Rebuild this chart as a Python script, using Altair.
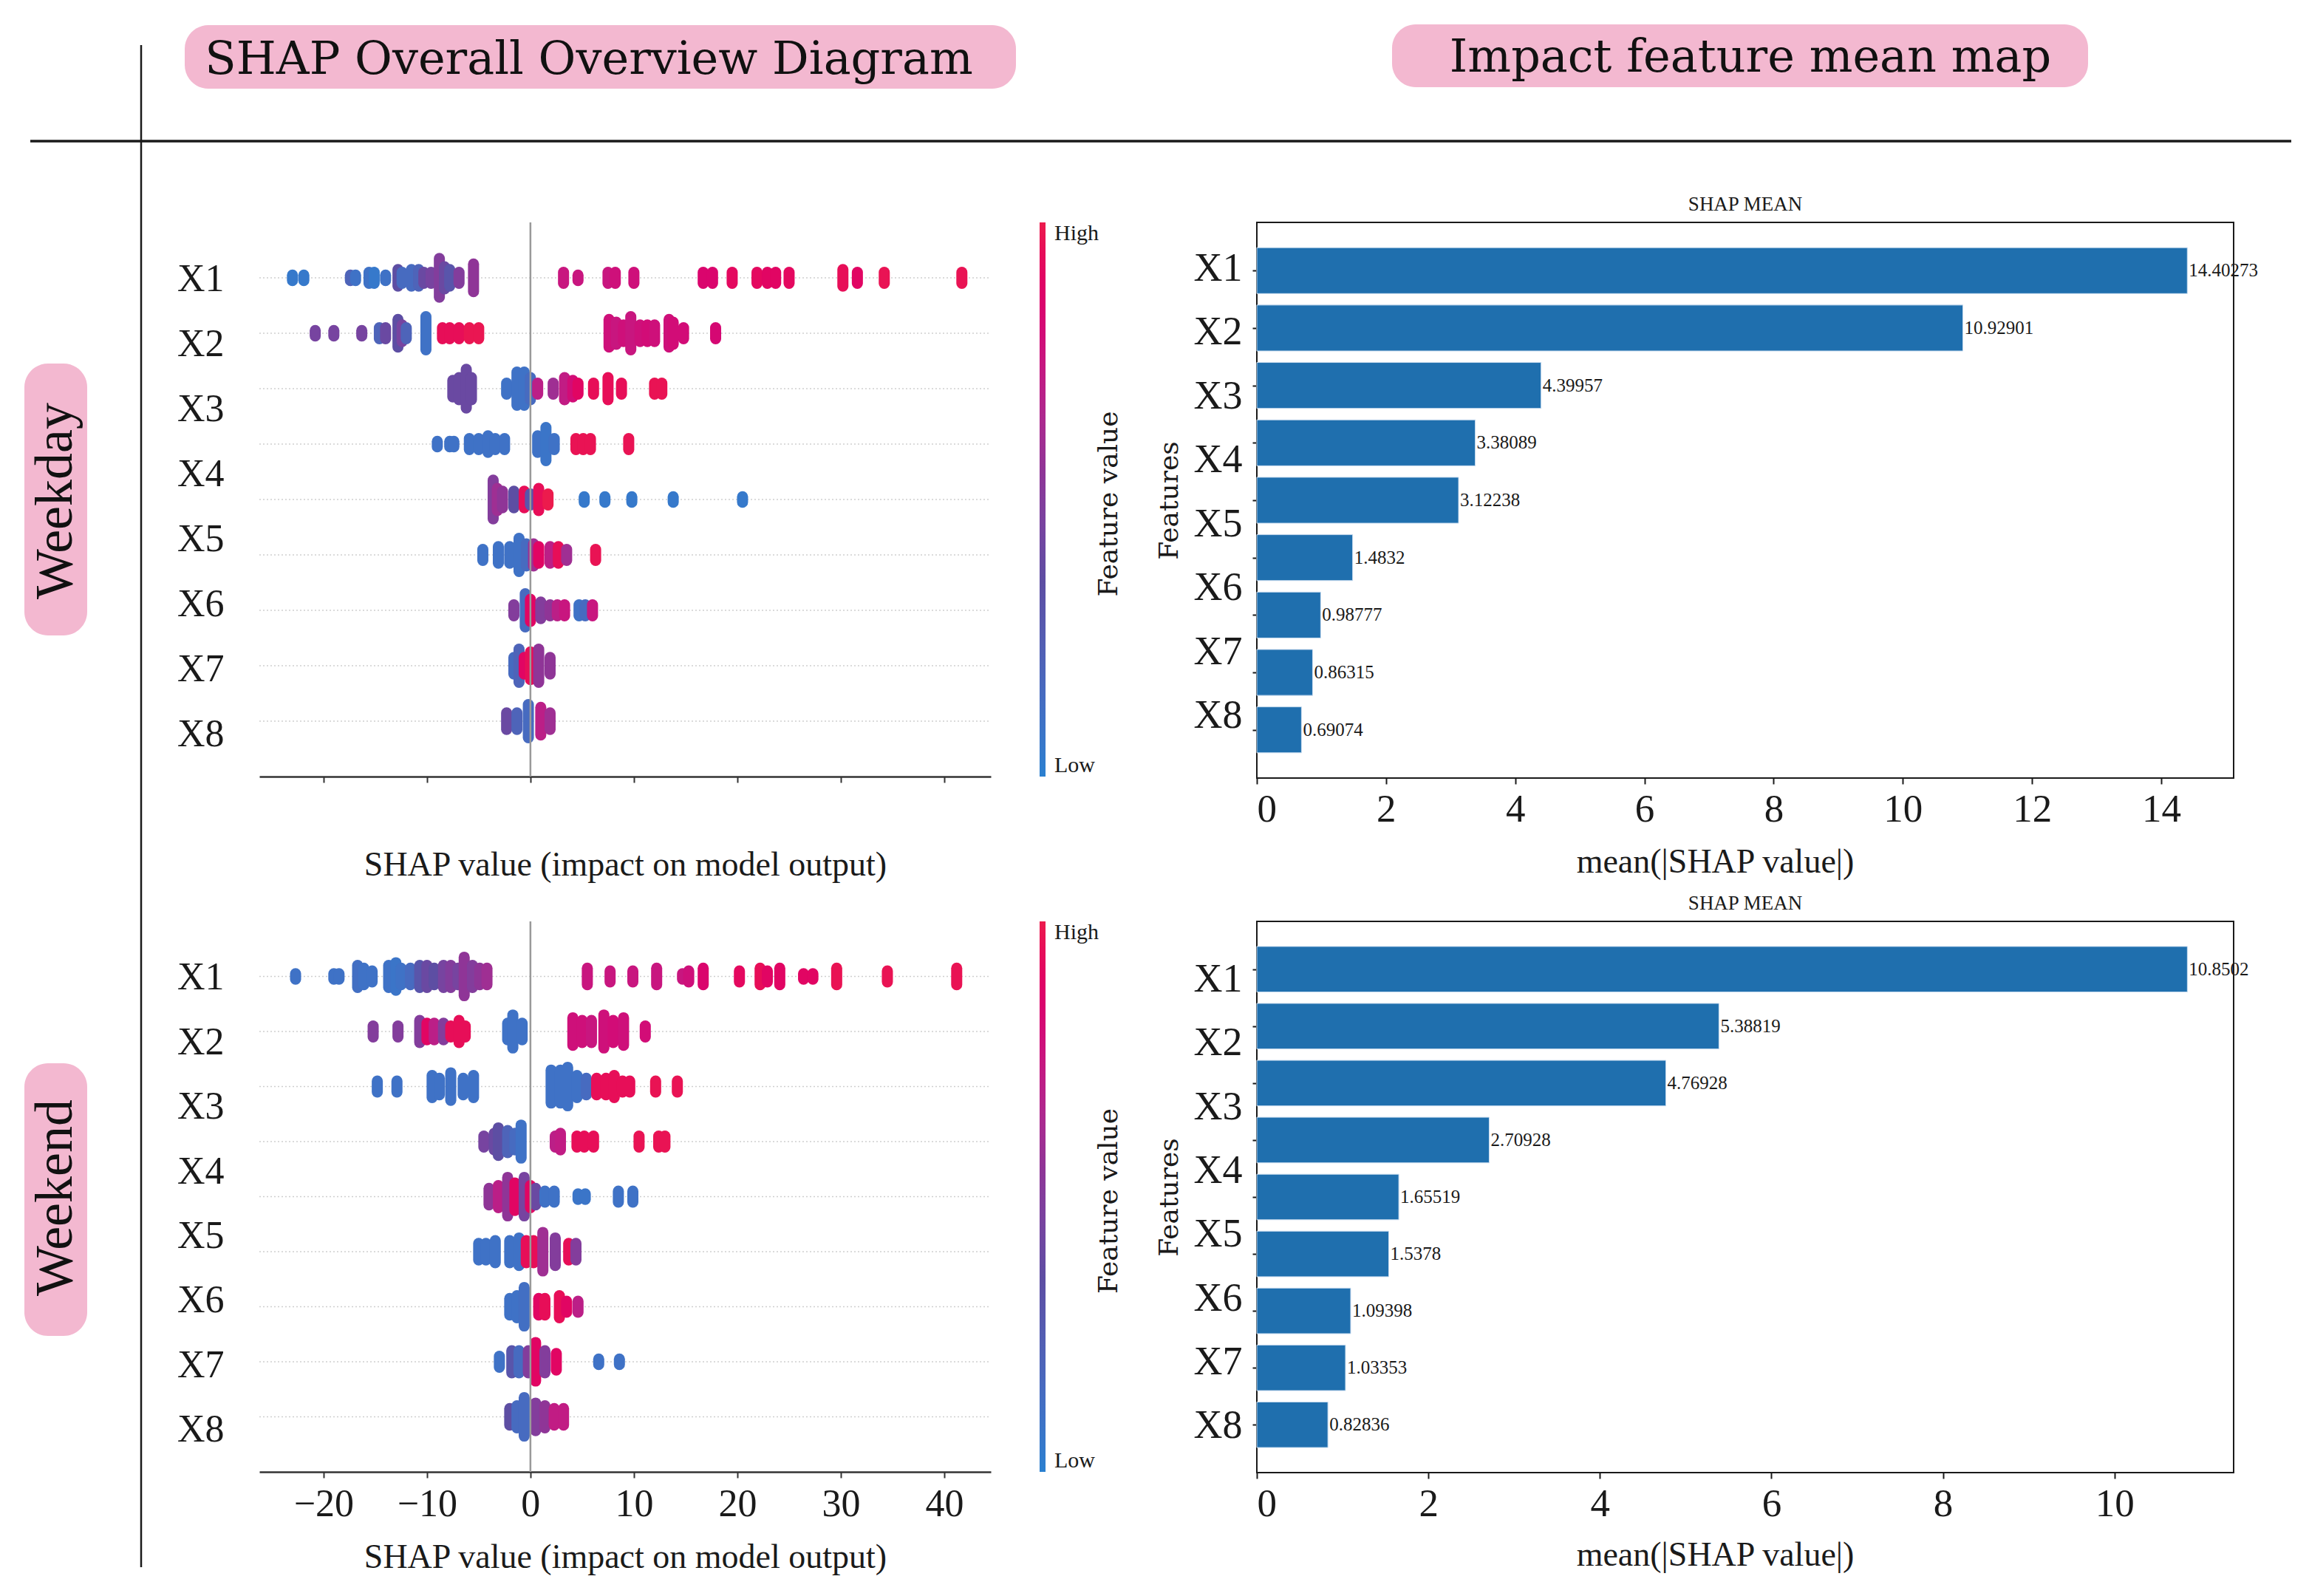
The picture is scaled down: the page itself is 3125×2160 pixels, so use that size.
import altair as alt
import pandas as pd

# ---------------- data ----------------
FEATURES = ["X1", "X2", "X3", "X4", "X5", "X6", "X7", "X8"]
HEADERS = ["SHAP Overall Overview Diagram", "Impact feature mean map"]
ROW_TITLES = ["Weekday", "Weekend"]
SHAP_TITLE = "SHAP value (impact on model output)"
BAR_TITLE = "SHAP MEAN"
COLORBAR_TITLE = "Feature value"

# mean(|SHAP|) bars (nine bars per panel, as drawn)
BAR_ROWS = [0, 1, 2, 3, 4, 5, 6, 7, 8]
bar_weekday = [14.40273, 10.92901, 4.39957, 3.38089, 3.12238, 1.4832, 0.98777, 0.86315, 0.69074]
bar_weekend = [10.8502, 5.38819, 4.76928, 2.70928, 1.65519, 1.5378, 1.09398, 1.03353, 0.82836]

# beeswarm clusters: (shap value, stacked dots, feature value 0..1)
wd_r1 = [(-23.0, 1, .05), (-21.9, 1, .05), (-17.4, 1, .2), (-16.9, 1, .1), (-15.6, 2, .1), (-15.1, 2, .05),
         (-14.0, 1, .1), (-12.8, 3, .35), (-12.4, 2, .15), (-11.5, 3, .15), (-10.8, 3, .2), (-10.3, 2, .4),
         (-9.6, 2, .45), (-8.8, 7, .5), (-8.3, 4, .4), (-7.8, 3, .3), (-6.9, 2, .5), (-5.5, 5, .55),
         (3.2, 2, .75), (4.6, 1, .75), (7.5, 2, .75), (8.2, 2, .78), (10.0, 2, .78), (16.7, 2, .85),
         (17.6, 2, .85), (19.5, 2, .92), (21.9, 2, .92), (22.9, 2, .9), (23.7, 2, .9), (25.0, 2, .92),
         (30.2, 3, .95), (31.6, 2, .9), (34.2, 2, .97), (41.7, 2, .97)]
wd_r2 = [(-20.8, 1, .45), (-19.0, 1, .45), (-16.3, 1, .45), (-14.6, 2, .2), (-14.0, 2, .4), (-12.8, 5, .35),
         (-12.4, 3, .45), (-12.0, 2, .2), (-10.1, 6, .1), (-8.5, 2, .95), (-7.8, 2, .95), (-6.9, 2, .95),
         (-5.9, 2, .98), (-5.0, 2, .98), (7.6, 5, .78), (8.3, 4, .75), (9.0, 3, .78), (9.7, 6, .75),
         (10.6, 3, .78), (11.3, 3, .8), (12.0, 3, .78), (13.4, 5, .78), (13.8, 4, .8), (14.8, 2, .8),
         (17.9, 2, .82)]
wd_r3 = [(-7.5, 3, .4), (-6.9, 4, .4), (-6.2, 7, .4), (-5.7, 4, .4), (-2.3, 2, .1), (-1.3, 6, .1),
         (-0.6, 6, .1), (0.0, 4, .15), (0.7, 2, .7), (2.2, 2, .6), (3.3, 4, .72), (4.1, 3, .8), (4.6, 2, .9),
         (6.1, 2, .95), (7.5, 4, .95), (8.8, 2, .95), (12.0, 2, .97), (12.7, 2, .97)]
wd_r4 = [(-9.0, 1, .1), (-7.8, 1, .1), (-7.4, 1, .1), (-5.9, 2, .1), (-5.0, 2, .1), (-4.1, 3, .1),
         (-3.4, 2, .1), (-2.5, 2, .1), (0.7, 3, .1), (1.5, 6, .08), (2.3, 2, .1), (4.4, 2, .97),
         (5.1, 2, .97), (5.8, 2, .97), (9.5, 2, .97)]
wd_r5 = [(-3.6, 7, .5), (-3.2, 4, .6), (-2.7, 3, .55), (-1.6, 3, .35), (-0.6, 3, .95), (0.0, 2, .3),
         (0.8, 4, .95), (1.7, 2, 1.0), (5.2, 1, .05), (7.2, 1, .05), (9.8, 1, .05), (13.8, 1, .05),
         (20.5, 1, .05)]
wd_r6 = [(-4.6, 2, .1), (-3.1, 3, .1), (-2.0, 3, .1), (-1.1, 6, .1), (-0.4, 4, .15), (0.3, 4, .6),
         (0.8, 3, .9), (1.9, 3, .7), (2.7, 3, .95), (3.5, 2, .6), (6.3, 2, .97)]
wd_r7 = [(-1.6, 2, .5), (-0.5, 6, .15), (0.0, 4, .9), (1.0, 3, .5), (1.9, 2, .55), (2.6, 2, .7),
         (3.3, 2, .75), (4.7, 2, .1), (5.3, 2, .15), (6.0, 2, .75)]
wd_r8 = [(-1.6, 3, .15), (-1.1, 6, .2), (-0.6, 3, .9), (0.0, 5, .95), (0.8, 6, .55), (1.9, 3, .55)]
wd_r9 = [(-2.3, 3, .4), (-1.3, 3, .2), (-0.2, 6, .15), (1.0, 5, .7), (1.9, 3, .6)]

we_r1 = [(-22.7, 1, .1), (-19.0, 1, .1), (-18.5, 1, .1), (-16.7, 4, .12), (-16.1, 3, .1), (-15.3, 2, .1),
         (-13.7, 4, .1), (-13.0, 5, .08), (-12.5, 3, .1), (-11.6, 3, .15), (-10.7, 4, .3), (-10.0, 4, .4),
         (-9.3, 3, .35), (-8.4, 4, .45), (-7.7, 4, .5), (-7.0, 3, .45), (-6.4, 7, .55), (-5.6, 4, .5),
         (-4.9, 3, .55), (-4.2, 3, .6), (5.5, 3, .75), (7.7, 2, .75), (9.9, 2, .75), (12.2, 3, .75),
         (14.7, 1, .75), (15.3, 2, .78), (16.7, 3, .85), (20.2, 2, .92), (22.2, 3, .95), (22.9, 2, .9),
         (24.1, 3, .9), (26.4, 1, .9), (27.3, 1, .9), (29.6, 3, .97), (34.5, 2, .97), (41.2, 3, .97)]
we_r2 = [(-15.2, 2, .5), (-12.8, 2, .5), (-10.7, 4, .5), (-10.0, 3, .9), (-9.3, 3, .7), (-8.4, 3, .5),
         (-7.7, 2, .95), (-6.9, 4, .95), (-6.3, 2, .95), (-2.2, 3, .1), (-1.7, 6, .1), (-0.8, 3, .1),
         (4.1, 5, .78), (5.0, 4, .78), (5.9, 4, .75), (7.1, 6, .78), (8.0, 4, .8), (9.0, 5, .78),
         (11.1, 2, .8)]
we_r3 = [(-14.8, 2, .1), (-12.9, 2, .1), (-9.5, 4, .1), (-8.8, 3, .1), (-7.7, 5, .1), (-6.5, 3, .1),
         (-5.5, 4, .1), (2.0, 6, .1), (2.9, 6, .1), (3.6, 7, .1), (4.5, 4, .1), (5.4, 3, .15),
         (6.4, 3, .95), (7.3, 3, .95), (8.1, 4, .95), (8.9, 2, .95), (9.6, 2, .95), (12.1, 2, .97),
         (14.2, 2, .97)]
we_r4 = [(-4.5, 2, .45), (-3.5, 3, .4), (-3.1, 5, .35), (-2.2, 4, .2), (-1.5, 3, .15), (-0.9, 6, .1),
         (2.4, 2, .7), (2.9, 3, .72), (4.5, 2, .95), (5.2, 2, .95), (6.1, 2, .95), (10.5, 2, .97),
         (12.4, 2, .97), (13.0, 2, .97)]
we_r5 = [(-4.0, 3, .55), (-3.1, 4, .7), (-2.2, 7, .55), (-1.5, 5, .9), (-0.6, 7, .45), (0.0, 4, .9),
         (0.5, 3, .4), (1.4, 2, .1), (2.3, 2, .1), (4.6, 1, .08), (5.3, 1, .08), (8.5, 2, .1), (9.9, 2, .1)]
we_r6 = [(-5.0, 3, .1), (-4.3, 3, .1), (-3.4, 4, .1), (-2.0, 4, .1), (-1.1, 5, .1), (-0.4, 4, .95),
         (0.3, 4, .95), (1.2, 7, .6), (2.4, 5, .5), (3.7, 3, .95), (4.4, 3, .5)]
we_r7 = [(-2.0, 3, .1), (-1.3, 4, .1), (-0.6, 7, .12), (0.8, 3, .9), (1.4, 3, .95), (2.8, 4, .95),
         (3.5, 2, .9), (4.6, 2, .7)]
we_r8 = [(-3.0, 2, .1), (-1.8, 4, .3), (-1.1, 4, .15), (-0.2, 4, .5), (0.5, 7, .9), (1.4, 4, .5),
         (2.5, 3, .9), (6.6, 1, .1), (8.6, 1, .1)]
we_r9 = [(-2.0, 3, .35), (-1.3, 4, .15), (-0.6, 7, .15), (0.5, 5, .5), (1.4, 4, .55), (2.3, 3, .72),
         (3.2, 3, .72)]

WEEKDAY_ROWS = [wd_r1, wd_r2, wd_r3, wd_r4, wd_r5, wd_r6, wd_r7, wd_r8, wd_r9]
WEEKEND_ROWS = [we_r1, we_r2, we_r3, we_r4, we_r5, we_r6, we_r7, we_r8, we_r9]

# ---------------- style ----------------
SERIF = "Liberation Serif"
DSERIF = "DejaVu Serif"
INK = "#1a1a1a"
PINK = "#f3b8d0"
BAR_BLUE = "#1f6fae"
COLOR_DOMAIN = [0, 0.35, 0.55, 0.75, 1]
COLOR_RANGE = ["#2a80d0", "#5d4ea3", "#8f3597", "#c8167f", "#ec1b4d"]

XDOM = [-26.2, 44.5]
SW_W = 990
BAR_W = 1322
DOT = 0.05           # half height of one stacked dot, in row units
SW_LAB0, SW_LABSTEP = 0.02, 1.173


def swarm_frame(rows):
    recs = []
    for r, row in enumerate(rows):
        for v, n, c in row:
            recs.append({"row": r, "shap": v, "n": n, "fv": c})
    return pd.DataFrame(recs)


def decorations():
    one = pd.DataFrame({"k": [0]})
    layers = []
    # separator lines
    layers.append(alt.Chart(one).mark_rule(color=INK, strokeWidth=2.5).encode(
        x=alt.value(-160), y=alt.value(-240), y2=alt.value(1820)))
    layers.append(alt.Chart(one).mark_rule(color=INK, strokeWidth=3.5).encode(
        x=alt.value(-310), x2=alt.value(2750), y=alt.value(-110)))
    # header pills
    layers.append(alt.Chart(one).mark_rect(color=PINK, cornerRadius=32).encode(
        x=alt.value(-101), x2=alt.value(1024), y=alt.value(-267), y2=alt.value(-181)))
    layers.append(alt.Chart(one).mark_rect(color=PINK, cornerRadius=32).encode(
        x=alt.value(1533), x2=alt.value(2475), y=alt.value(-268), y2=alt.value(-183)))
    layers.append(alt.Chart(pd.DataFrame({"t": [HEADERS[0]]})).mark_text(
        font=DSERIF, fontSize=62, color="#111111", align="center", baseline="alphabetic").encode(
        x=alt.value(446), y=alt.value(-201), text="t:N"))
    layers.append(alt.Chart(pd.DataFrame({"t": [HEADERS[1]]})).mark_text(
        font=DSERIF, fontSize=62, color="#111111", align="center", baseline="alphabetic").encode(
        x=alt.value(2018), y=alt.value(-204), text="t:N"))
    # row pills
    layers.append(alt.Chart(one).mark_rect(color=PINK, cornerRadius=32).encode(
        x=alt.value(-318), x2=alt.value(-233), y=alt.value(191), y2=alt.value(559)))
    layers.append(alt.Chart(one).mark_rect(color=PINK, cornerRadius=32).encode(
        x=alt.value(-318), x2=alt.value(-233), y=alt.value(1138), y2=alt.value(1507)))
    layers.append(alt.Chart(pd.DataFrame({"t": [ROW_TITLES[0]]})).mark_text(
        font=SERIF, fontSize=72, color="#111111", align="center", baseline="alphabetic", angle=270).encode(
        x=alt.value(-254), y=alt.value(377), text="t:N"))
    layers.append(alt.Chart(pd.DataFrame({"t": [ROW_TITLES[1]]})).mark_text(
        font=SERIF, fontSize=72, color="#111111", align="center", baseline="alphabetic", angle=270).encode(
        x=alt.value(-254), y=alt.value(1320), text="t:N"))
    return layers


def beeswarm(rows, h, tick_labels, lab_pad, title_pad, deco):
    df = swarm_frame(rows)
    xs = alt.Scale(domain=XDOM, nice=False, zero=False)
    ys = alt.Scale(domain=[-1, 9], reverse=True, nice=False, zero=False)
    xaxis = alt.Axis(title=SHAP_TITLE, values=list(range(-20, 41, 10)), labels=tick_labels, grid=False,
                     domainColor="#333333", domainWidth=2.5, tickColor="#333333", tickWidth=2, tickSize=8,
                     labelFont=SERIF, labelFontSize=52, labelColor=INK, labelPadding=lab_pad,
                     titleFont=SERIF, titleFontSize=46, titleFontWeight="normal", titleColor=INK,
                     titlePadding=title_pad)
    pos = [round(SW_LAB0 + SW_LABSTEP * i, 3) for i in range(len(FEATURES))]
    yaxis = alt.Axis(title=None, values=pos,
                     labelExpr=f"{FEATURES}[round((datum.value - {SW_LAB0}) / {SW_LABSTEP})]",
                     ticks=False, domain=False, grid=False, labelFont=SERIF, labelFontSize=52,
                     labelColor=INK, labelPadding=48)
    legend = alt.Legend(title=None, orient="right", offset=66, direction="vertical",
                        gradientLength=h, gradientThickness=8, values=[0, 1],
                        labelExpr="datum.value > 0.5 ? 'High' : 'Low'", labelFont=SERIF, labelFontSize=30,
                        labelColor=INK, labelOffset=12)
    grid = alt.Chart(pd.DataFrame({"row": list(range(9))})).mark_rule(
        color="#cfcfcf", strokeWidth=1.5, strokeDash=[2, 3]).encode(
        x=alt.datum(XDOM[0], type="quantitative", scale=xs, axis=xaxis),
        x2=alt.datum(XDOM[1]),
        y=alt.Y("row:Q", scale=ys, axis=yaxis))
    caps = alt.Chart(df).transform_calculate(
        y0=f"datum.row - datum.n * {DOT}", y1=f"datum.row + datum.n * {DOT}"
    ).mark_rule(strokeWidth=15, strokeCap="round").encode(
        x=alt.X("shap:Q", scale=xs, axis=xaxis),
        y=alt.Y("y0:Q", scale=ys, axis=yaxis),
        y2="y1:Q",
        color=alt.Color("fv:Q", scale=alt.Scale(domain=COLOR_DOMAIN, range=COLOR_RANGE), legend=legend))
    zero = alt.Chart(pd.DataFrame({"k": [0]})).mark_rule(color="#999999", strokeWidth=2.5).encode(
        x=alt.datum(0, type="quantitative", scale=xs, axis=xaxis),
        y=alt.datum(-1, type="quantitative", scale=ys, axis=yaxis),
        y2=alt.datum(9))
    cbar_title = alt.Chart(pd.DataFrame({"t": [COLORBAR_TITLE]})).mark_text(
        font=DSERIF, fontSize=36, color=INK, align="center", baseline="middle", angle=270).encode(
        x=alt.value(SW_W + 160), y=alt.value(h / 2 + 6), text="t:N")
    layers = [grid, caps, zero, cbar_title] + (decorations() if deco else [])
    return alt.layer(*layers).properties(width=SW_W, height=h)


def barpanel(vals, xmax, xticks, lab0, labstep, h, lab_pad, title_pad):
    df = pd.DataFrame({"idx": BAR_ROWS, "val": vals, "txt": [str(v) for v in vals]})
    ydom = [-0.84, 8.84]
    xs = alt.Scale(domain=[0, xmax], nice=False, zero=False)
    xaxis = alt.Axis(title="mean(|SHAP value|)", values=xticks, grid=False, domain=False, tickColor=INK,
                     tickWidth=2, tickSize=8, labelFont=SERIF, labelFontSize=53, labelColor=INK,
                     labelPadding=lab_pad, titleFont=SERIF, titleFontSize=46, titleFontWeight="normal",
                     titleColor=INK, titlePadding=title_pad, titleX=620, titleAnchor="middle")
    pos = [round(lab0 + labstep * i, 3) for i in range(len(FEATURES))]
    ylab = alt.Axis(title="Features", orient="left", values=pos,
                    labelExpr=f"{FEATURES}[round((datum.value - ({lab0})) / {labstep})]",
                    ticks=False, domain=False, grid=False, labelFont=SERIF, labelFontSize=54,
                    labelColor=INK, labelPadding=20, titleFont=DSERIF, titleFontSize=36,
                    titleFontWeight="normal", titleColor=INK, titlePadding=14)
    ytick = alt.Axis(title=None, orient="left", values=BAR_ROWS, labels=False, ticks=True, tickSize=6,
                     tickWidth=2, tickColor=INK, domain=False, grid=False)
    bars = alt.Chart(df).transform_calculate(
        b0="datum.idx - 0.4", b1="datum.idx + 0.4"
    ).mark_bar(color=BAR_BLUE, stroke="#c9dcef", strokeWidth=1).encode(
        x=alt.X("val:Q", scale=xs, axis=xaxis),
        x2=alt.datum(0),
        y=alt.Y("b0:Q", scale=alt.Scale(domain=ydom, reverse=True, nice=False, zero=False), axis=ylab),
        y2="b1:Q")
    texts = alt.Chart(df).mark_text(align="left", baseline="middle", dx=2, font=SERIF, fontSize=25,
                                    color=INK).encode(
        x=alt.X("val:Q", scale=xs, axis=xaxis),
        y=alt.Y("idx:Q", scale=alt.Scale(domain=ydom, reverse=True, nice=False, zero=False), axis=ytick),
        text="txt:N")
    return alt.layer(bars, texts).resolve_scale(y="independent").properties(
        width=BAR_W, height=h,
        title=alt.Title(BAR_TITLE, font=SERIF, fontSize=27, fontWeight="normal", color=INK,
                        anchor="middle", offset=10),
        view=alt.ViewBackground(stroke=INK, strokeWidth=2))


A = beeswarm(WEEKDAY_ROWS, 750, False, 10, 88, True)
B = barpanel(bar_weekday, 15.12, list(range(0, 15, 2)), -0.04, 1.114, 752, 8, 22)
C = beeswarm(WEEKEND_ROWS, 745, True, 10, 24, False)
D = barpanel(bar_weekend, 11.39, list(range(0, 11, 2)), 0.18, 1.12, 746, 8, 20)

chart = alt.concat(
    A, B, C, D, columns=2, spacing=alt.RowColnumber(row=194, column=360), bounds="flush", align="each"
).resolve_scale(
    x="independent", y="independent", color="independent"
).resolve_legend(color="independent").properties(
    padding={"left": 24, "top": 24, "right": 10, "bottom": 10}
).configure(font=SERIF, background="white").configure_view(stroke="transparent")

chart.save("out.html", embed_options={"renderer": "svg", "actions": False})
